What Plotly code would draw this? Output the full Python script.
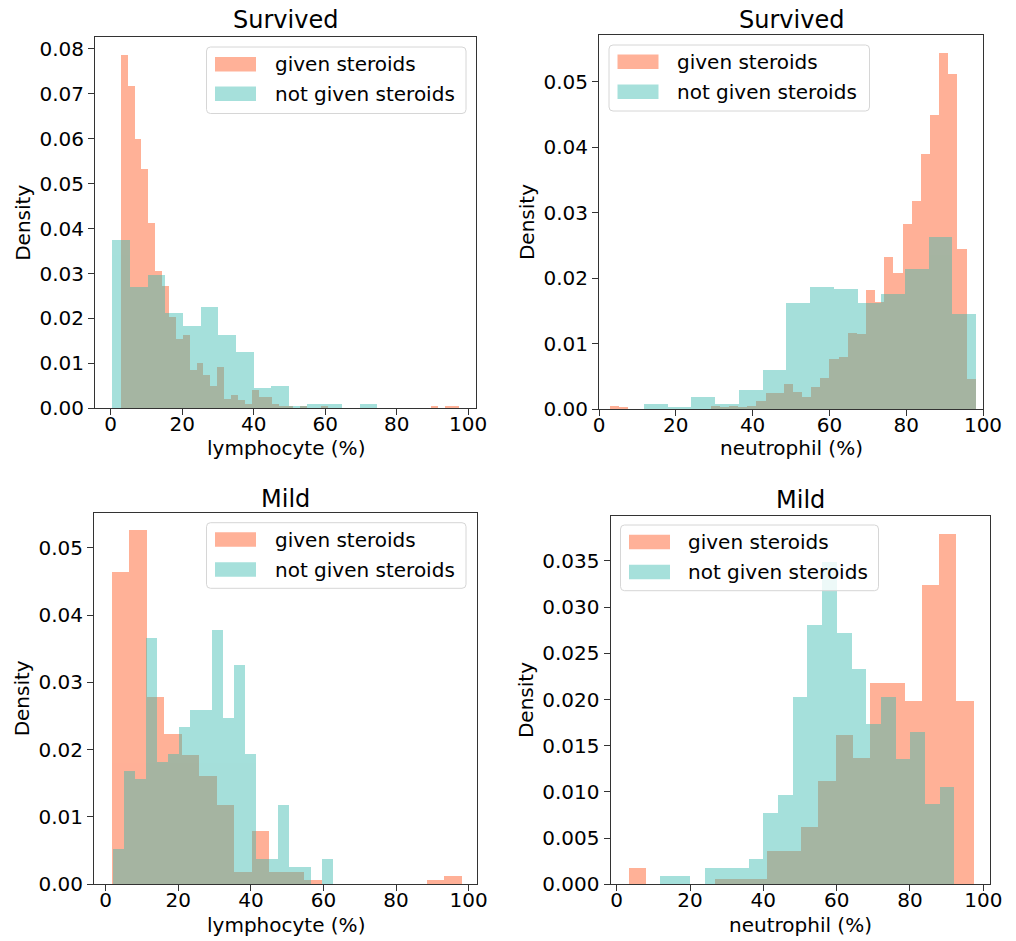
import plotly.graph_objects as go

# ---------------- data (density histograms) ----------------
# Survived - lymphocyte
surv_lym_given_start = 2.8
surv_lym_given_width = 1.93
surv_lym_given = [0.0787, 0.0718, 0.0600, 0.0533, 0.0413, 0.0304, 0.0271, 0.0203, 0.0154, 0.0163,
                  0.0084, 0.0100, 0.0074, 0.0048, 0.0091, 0.0020, 0.0030, 0.0017, 0.0009, 0.0039,
                  0.0024, 0.0024, 0.0009, 0.0004, 0.0004, 0.0, 0.0004, 0.0, 0.0, 0.0004,
                  0.0, 0.0, 0.0, 0.0, 0.0, 0.0, 0.0, 0.0, 0.0, 0.0,
                  0.0, 0.0, 0.0, 0.0, 0.0, 0.0004, 0.0, 0.0004, 0.0004]
surv_lym_notgiven_start = 0.45
surv_lym_notgiven_width = 4.94
surv_lym_notgiven = [0.0373, 0.0269, 0.0297, 0.0212, 0.0183, 0.0224, 0.0163, 0.0125, 0.0045, 0.0048,
                     0.0004, 0.0008, 0.0008, 0.0, 0.0008]

# Survived - neutrophil
surv_neu_given_start = 2.9
surv_neu_given_width = 2.38
surv_neu_given = [0.00046, 0.00025, 0.0, 0.0, 0.0, 0.0, 0.0, 0.0, 0.0, 0.0,
                  0.0, 0.0005, 0.00025, 0.0005, 0.00025, 0.0005, 0.0012, 0.0024, 0.0024, 0.0038,
                  0.0026, 0.0019, 0.0034, 0.0048, 0.0077, 0.0080, 0.0116, 0.0114, 0.0181, 0.0163,
                  0.0232, 0.0208, 0.0283, 0.0317, 0.0389, 0.0449, 0.0544, 0.0511, 0.0244, 0.0046]
surv_neu_notgiven_start = 11.7
surv_neu_notgiven_width = 6.18
surv_neu_notgiven = [0.00076, 0.00025, 0.0018, 0.00076, 0.0029, 0.0060, 0.0162, 0.0186, 0.0183, 0.0162,
                     0.0175, 0.0214, 0.0263, 0.0145]

# Mild - lymphocyte
mild_lym_given_start = 1.65
mild_lym_given_width = 4.82
mild_lym_given = [0.0465, 0.0527, 0.0279, 0.0223, 0.0192, 0.0161, 0.0118, 0.0018, 0.0080, 0.0018,
                  0.0018, 0.0006, 0.0, 0.0, 0.0, 0.0, 0.0, 0.0, 0.0006, 0.0012]
mild_lym_notgiven_start = 1.93
mild_lym_notgiven_width = 3.03
mild_lym_notgiven = [0.0052, 0.0169, 0.0156, 0.0366, 0.0182, 0.0194, 0.0234, 0.0260, 0.0260, 0.0378,
                     0.0247, 0.0326, 0.0194, 0.0038, 0.0038, 0.0118, 0.0026, 0.0026, 0.0, 0.0038]

# Mild - neutrophil
mild_neu_given_start = 3.2
mild_neu_given_width = 4.7
mild_neu_given = [0.00184, 0.0, 0.0, 0.0, 0.0, 0.00057, 0.00057, 0.00057, 0.0036, 0.0036,
                  0.0062, 0.0112, 0.0162, 0.0137, 0.0218, 0.0218, 0.0199, 0.0324, 0.0380, 0.0199]
mild_neu_notgiven_start = 11.8
mild_neu_notgiven_width = 4.01
mild_neu_notgiven = [0.0009, 0.0009, 0.0, 0.00184, 0.00184, 0.00184, 0.0028, 0.0077, 0.0097, 0.0203,
                     0.0281, 0.0349, 0.0272, 0.0233, 0.0174, 0.0203, 0.0136, 0.0165, 0.0087, 0.0106]

titles = ["Survived", "Survived", "Mild", "Mild"]
xlabels = ["lymphocyte (%)", "neutrophil (%)", "lymphocyte (%)", "neutrophil (%)"]
series_names = ["given steroids", "not given steroids"]
x_ticks = [0, 20, 40, 60, 80, 100]
y_ticks_p1 = [0.00, 0.01, 0.02, 0.03, 0.04, 0.05, 0.06, 0.07, 0.08]
y_ticks_p2 = [0.00, 0.01, 0.02, 0.03, 0.04, 0.05]
y_ticks_p3 = [0.00, 0.01, 0.02, 0.03, 0.04, 0.05]
y_ticks_p4 = [0.000, 0.005, 0.010, 0.015, 0.020, 0.025, 0.030, 0.035]

# ---------------- styling ----------------
W, H = 1016, 941
ORANGE = (255, 82, 26)
TEAL = (57, 186, 175)
ALPHA = 0.45
FONT = "DejaVu Sans"
FS = 20


def rgb(c):
    return "rgb(%d,%d,%d)" % c


def rgba(c, a):
    return "rgba(%d,%d,%d,%.3f)" % (c[0], c[1], c[2], a)


def px(x):
    return x / W


def py(y):
    return 1 - y / H


panels = [
    dict(given=(surv_lym_given_start, surv_lym_given_width, surv_lym_given),
         notgiven=(surv_lym_notgiven_start, surv_lym_notgiven_width, surv_lym_notgiven),
         px_x=(95, 476), px_y=(37.3, 408.3), xr=[-4.39, 102.2], yr=[0, 0.0826],
         yticks=y_ticks_p1, yfmt=".2f",
         leg=dict(box=(206.5, 47, 466, 113.5), sw=(215, 256), rows=(64.2, 93.8), tx=272.5),
         title_y=20, xlab_y=448),
    dict(given=(surv_neu_given_start, surv_neu_given_width, surv_neu_given),
         notgiven=(surv_neu_notgiven_start, surv_neu_notgiven_width, surv_neu_notgiven),
         px_x=(599, 983), px_y=(35, 409), xr=[0, 100], yr=[0, 0.0571],
         yticks=y_ticks_p2, yfmt=".2f",
         leg=dict(box=(609, 45, 869.5, 111), sw=(617.5, 658.5), rows=(61.7, 91.7), tx=675),
         title_y=20, xlab_y=448),
    dict(given=(mild_lym_given_start, mild_lym_given_width, mild_lym_given),
         notgiven=(mild_lym_notgiven_start, mild_lym_notgiven_width, mild_lym_notgiven),
         px_x=(94, 477), px_y=(512.7, 884), xr=[-3.22, 102.3], yr=[0, 0.05525],
         yticks=y_ticks_p3, yfmt=".2f",
         leg=dict(box=(206.5, 522.7, 466, 588.3), sw=(215, 256), rows=(539.5, 569.5), tx=272.5),
         title_y=499, xlab_y=925),
    dict(given=(mild_neu_given_start, mild_neu_given_width, mild_neu_given),
         notgiven=(mild_neu_notgiven_start, mild_neu_notgiven_width, mild_neu_notgiven),
         px_x=(610.5, 989.5), px_y=(515.7, 884.3), xr=[-1.69, 101.7], yr=[0, 0.0399],
         yticks=y_ticks_p4, yfmt=".3f",
         leg=dict(box=(620.5, 525, 878.5, 590.7), sw=(629, 670), rows=(542, 572), tx=686),
         title_y=500, xlab_y=925),
]

fig = go.Figure()
layout = dict(
    width=W, height=H,
    margin=dict(l=0, r=0, t=0, b=0, autoexpand=False),
    paper_bgcolor="white", plot_bgcolor="white",
    barmode="overlay", bargap=0, showlegend=False,
    font=dict(family=FONT, size=FS, color="black"),
    annotations=[], shapes=[],
)

colors = [ORANGE, TEAL]

for i, p in enumerate(panels):
    n = "" if i == 0 else str(i + 1)
    xa, ya = "x" + n, "y" + n
    for (start, width, dens), name, color in [
        (p["given"], series_names[0], ORANGE),
        (p["notgiven"], series_names[1], TEAL),
    ]:
        centers = [start + width * (k + 0.5) for k in range(len(dens))]
        fig.add_trace(go.Bar(
            x=centers, y=dens, width=[width] * len(dens), name=name,
            marker=dict(color=rgb(color), line=dict(width=0)), opacity=ALPHA,
            xaxis=xa, yaxis=ya, showlegend=False,
        ))
    x0, x1 = p["px_x"]
    y0, y1 = p["px_y"]
    dom_x = [px(x0), px(x1)]
    dom_y = [py(y1), py(y0)]
    axis_common = dict(
        showline=True, linecolor="#333333", linewidth=1, mirror=True,
        ticks="outside", ticklen=6, tickwidth=1, tickcolor="#333333",
        showgrid=False, zeroline=False, automargin=False,
        tickfont=dict(family=FONT, size=FS, color="black"),
    )
    layout["xaxis" + n] = dict(
        axis_common, domain=dom_x, range=p["xr"], anchor=ya,
        tickvals=x_ticks, ticktext=[str(v) for v in x_ticks],
        ticklabelstandoff=-8,
    )
    layout["yaxis" + n] = dict(
        axis_common, domain=dom_y, range=p["yr"], anchor=xa,
        tickvals=p["yticks"], tickformat=p["yfmt"],
        title=dict(text="Density", font=dict(family=FONT, size=FS), standoff=3),
    )
    # subplot title
    layout["annotations"].append(dict(
        text=titles[i], xref="paper", yref="paper",
        x=(dom_x[0] + dom_x[1]) / 2, y=py(p["title_y"]), xanchor="center", yanchor="middle",
        showarrow=False, font=dict(family=FONT, size=24, color="black"),
    ))
    # x-axis label
    layout["annotations"].append(dict(
        text=xlabels[i], xref="paper", yref="paper",
        x=(dom_x[0] + dom_x[1]) / 2, y=py(p["xlab_y"]), xanchor="center", yanchor="middle",
        showarrow=False, font=dict(family=FONT, size=FS, color="black"),
    ))
    # legend (matplotlib-style box with wide colour patches)
    lg = p["leg"]
    bx0, by0, bx1, by1 = lg["box"]
    r = 4
    path = ("M {a},{b} L {c},{b} Q {d},{b} {d},{e} L {d},{f} Q {d},{g} {c},{g} "
            "L {a},{g} Q {h},{g} {h},{f} L {h},{e} Q {h},{b} {a},{b} Z").format(
        a=px(bx0 + r), b=py(by0), c=px(bx1 - r), d=px(bx1), e=py(by0 + r),
        f=py(by1 - r), g=py(by1), h=px(bx0))
    layout["shapes"].append(dict(
        type="path", path=path, xref="paper", yref="paper", layer="above",
        fillcolor="rgba(255,255,255,0.8)", line=dict(color="#d6d6d6", width=1),
    ))
    for j, (cy, name) in enumerate(zip(lg["rows"], series_names)):
        layout["shapes"].append(dict(
            type="rect", xref="paper", yref="paper", layer="above",
            x0=px(lg["sw"][0]), x1=px(lg["sw"][1]), y0=py(cy - 7.2), y1=py(cy + 7.2),
            fillcolor=rgba(colors[j], ALPHA), line=dict(width=0),
        ))
        layout["annotations"].append(dict(
            text=name, xref="paper", yref="paper", x=px(lg["tx"]), y=py(cy),
            xanchor="left", yanchor="middle", showarrow=False,
            font=dict(family=FONT, size=FS, color="black"),
        ))

fig.update_layout(**layout)
fig.write_html(
    "out.html",
    config=dict(displayModeBar=False),
    post_script="document.body.style.margin='0';document.body.style.padding='0';",
)
